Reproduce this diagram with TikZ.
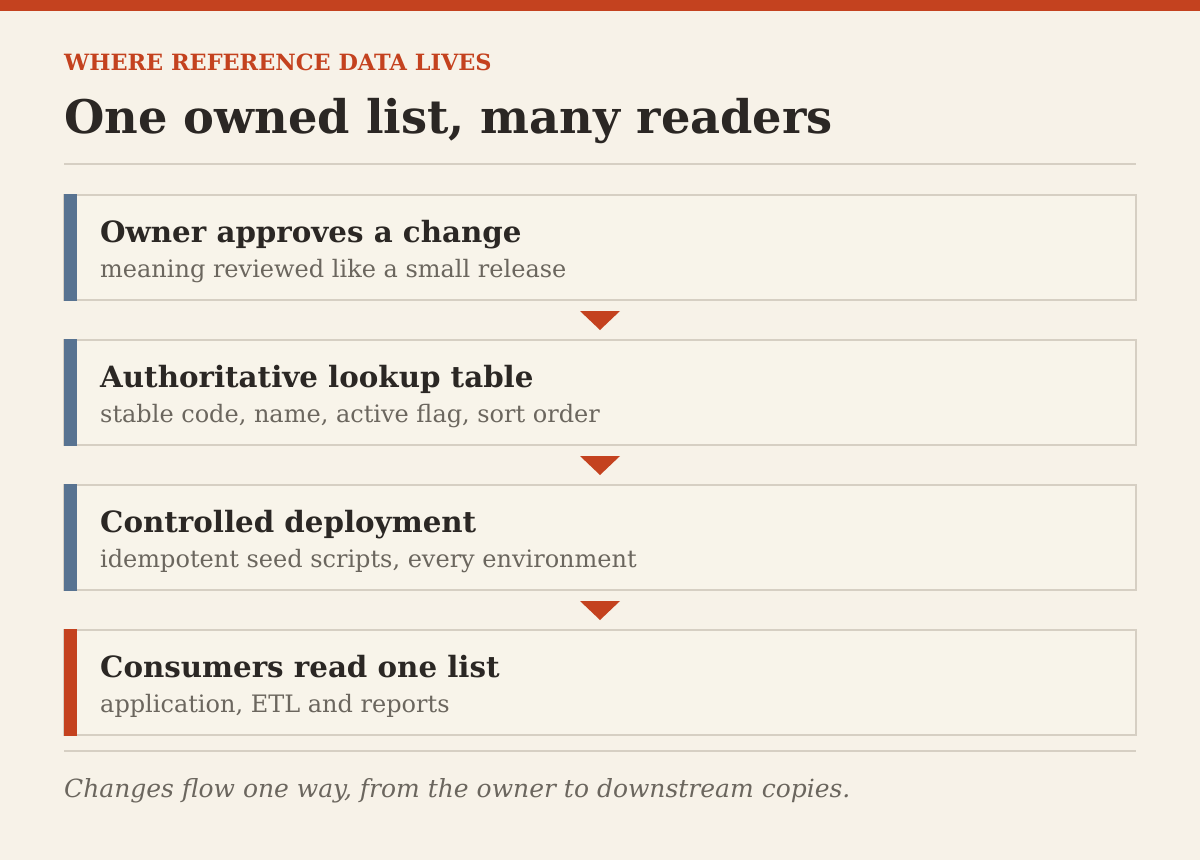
\documentclass[tikz,border=0pt]{standalone}
\usepackage{fontspec}
\setmainfont{DejaVu Serif}
\usetikzlibrary{calc}
\definecolor{paper}{HTML}{F7F2E8}
\definecolor{boxfill}{HTML}{F8F4EA}
\definecolor{rust}{HTML}{C4421F}
\definecolor{ink}{HTML}{2B2724}
\definecolor{mute}{HTML}{6B665E}
\definecolor{rulegray}{HTML}{D6CFC3}
\definecolor{slate}{HTML}{587391}
\begin{document}
\begin{tikzpicture}[x=1pt,y=-1pt,
    stage/.style={draw=rulegray, line width=2pt, fill=boxfill, minimum width=1072pt, minimum height=105pt, inner sep=0pt, outer sep=0pt, anchor=north west},
    head/.style={anchor=base west, inner sep=0pt, text=ink, font=\fontsize{29.3}{34}\selectfont\bfseries},
    sub/.style={anchor=base west, inner sep=0pt, text=mute, font=\fontsize{24}{28}\selectfont},
    marker/.style={fill=rust}]
		\fill[paper] (0,0) rectangle (1200,860);
		\useasboundingbox (0,0) rectangle (1200,860);
		\fill[rust] (0,0) rectangle (1200,11);
		\node[anchor=base west, inner sep=0pt, text=rust, font=\fontsize{22.4}{26}\selectfont\bfseries] (kicker) at (64,70) {WHERE REFERENCE DATA LIVES};
		\node[anchor=base west, inner sep=0pt, text=ink, font=\fontsize{46.3}{52}\selectfont\bfseries] (title) at (64,133) {One owned list, many readers};
		\draw[rulegray, line width=2pt] (64,164) -- (1136,164);
		
		\node[stage] (s1) at (64,195) {};
		\node[stage] (s2) at (64,340) {};
		\node[stage] (s3) at (64,485) {};
		\node[stage] (s4) at (64,630) {};
		\fill[slate] ($(s1.north west)+(0,-1)$) rectangle ($(s1.south west)+(13,1)$);
		\fill[slate] ($(s2.north west)+(0,-1)$) rectangle ($(s2.south west)+(13,1)$);
		\fill[slate] ($(s3.north west)+(0,-1)$) rectangle ($(s3.south west)+(13,1)$);
		\fill[rust] ($(s4.north west)+(0,-1)$) rectangle ($(s4.south west)+(13,1)$);
		
		\node[head] (h1) at ($(s1.north west)+(36,47)$) {Owner approves a change};
		\node[sub] (d1) at ($(s1.north west)+(36,82)$) {meaning reviewed like a small release};
		\node[head] (h2) at ($(s2.north west)+(36,47)$) {Authoritative lookup table};
		\node[sub] (d2) at ($(s2.north west)+(36,82)$) {stable code, name, active flag, sort order};
		\node[head] (h3) at ($(s3.north west)+(36,47)$) {Controlled deployment};
		\node[sub] (d3) at ($(s3.north west)+(36,82)$) {idempotent seed scripts, every environment};
		\node[head] (h4) at ($(s4.north west)+(36,47)$) {Consumers read one list};
		\node[sub] (d4) at ($(s4.north west)+(36,82)$) {application, ETL and reports};
		
		\coordinate (m1) at ($(s1.south)!0.5!(s2.north)$);
		\coordinate (m2) at ($(s2.south)!0.5!(s3.north)$);
		\coordinate (m3) at ($(s3.south)!0.5!(s4.north)$);
		\fill[marker] ($(m1)+(-20,-9)$) -- ($(m1)+(20,-9)$) -- ($(m1)+(0,10)$) -- cycle;
		\fill[marker] ($(m2)+(-20,-9)$) -- ($(m2)+(20,-9)$) -- ($(m2)+(0,10)$) -- cycle;
		\fill[marker] ($(m3)+(-20,-9)$) -- ($(m3)+(20,-9)$) -- ($(m3)+(0,10)$) -- cycle;
		
		\draw[rulegray, line width=2pt] (64,751) -- (1136,751);
		\node[anchor=base west, inner sep=0pt, text=mute, font=\fontsize{25}{30}\selectfont\itshape] (note) at (64,797) {Changes flow one way, from the owner to downstream copies.};
\end{tikzpicture}
\end{document}
